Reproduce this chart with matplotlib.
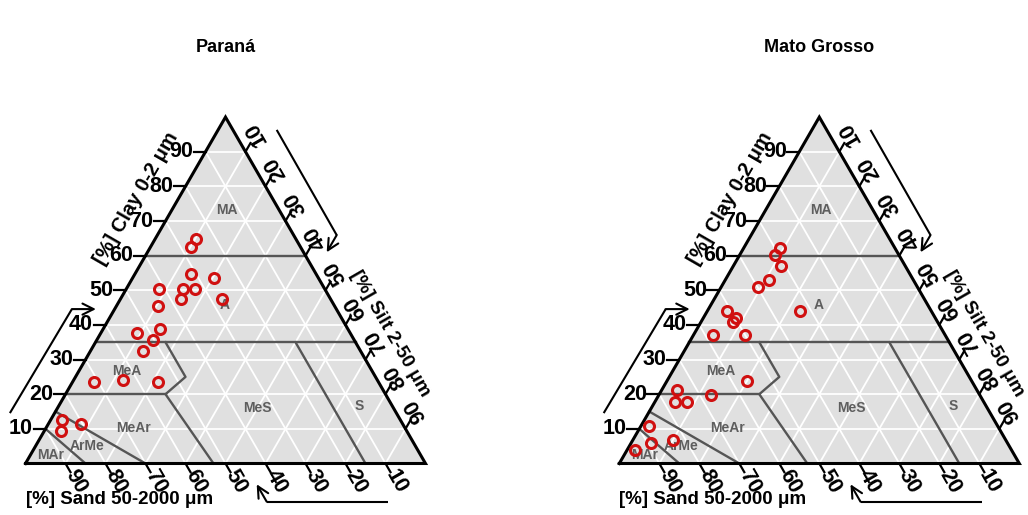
import numpy as np
import matplotlib
matplotlib.use("Agg")
import matplotlib.pyplot as plt

plt.rcParams['font.family'] = ['Liberation Sans', 'DejaVu Sans']

# soil samples, percent of clay / silt / sand
parana_clay = [64.7, 62.5, 54.8, 53.6, 50.5, 50.5, 50.5, 47.5, 47.5, 45.5,
               38.7, 37.7, 35.7, 32.5, 23.5, 24.2, 23.4, 12.6, 11.5, 9.5]
parana_silt = [10.2, 10.2, 14.0, 20.3, 8.2, 14.2, 17.2, 15.0, 25.3, 10.4,
               14.2, 9.0, 14.0, 13.2, 5.3, 12.3, 21.3, 2.9, 8.0, 4.0]
parana_sand = [25.1, 27.3, 31.2, 26.1, 41.3, 35.3, 32.3, 37.5, 27.2, 44.1,
               47.1, 53.3, 50.3, 54.3, 71.2, 63.5, 55.3, 84.5, 80.5, 86.5]

mt_clay = [62.1, 60.1, 57.0, 53.0, 51.0, 43.9, 44.0, 42.1, 40.9, 37.0,
           37.0, 23.7, 21.1, 19.9, 17.8, 17.8, 10.8, 5.8, 6.7, 3.8]
mt_silt = [9.0, 8.9, 12.0, 10.9, 9.1, 23.2, 4.9, 8.0, 7.9, 5.0,
           13.0, 20.1, 3.8, 13.0, 4.9, 8.0, 2.0, 5.0, 10.1, 2.0]
mt_sand = [28.9, 31.0, 31.0, 36.1, 39.9, 32.9, 51.1, 49.9, 51.2, 58.0,
           50.0, 56.2, 75.1, 67.1, 77.3, 74.2, 87.2, 89.2, 83.2, 94.2]

# texture class borders as (clay, silt) vertices
class_lines = [
    [(60, 0), (60, 40)],
    [(35, 0), (35, 65)],
    [(35, 17.5), (25, 27.5), (20, 25), (0, 47)],
    [(20, 0), (20, 25)],
    [(35, 50), (0, 85)],
    [(15, 0), (0, 30)],
    [(10, 0), (0, 15)],
]
class_names = ['MA', 'A', 'MeA', 'MeS', 'S', 'MeAr', 'ArMe', 'MAr']
class_clay = [73.2, 45.7, 26.6, 16.0, 16.6, 10.2, 5.1, 2.4]
class_silt = [13.8, 27.0, 12.0, 49.9, 75.1, 21.9, 12.8, 5.1]

ticks = [10, 20, 30, 40, 50, 60, 70, 80, 90]

H = np.sqrt(3) / 2


def tern(clay, silt):
    clay = np.asarray(clay, float)
    silt = np.asarray(silt, float)
    return silt + clay / 2, clay * H


def arrow(ax, pts):
    xs = [p[0] for p in pts]
    ys = [p[1] for p in pts]
    ax.plot(xs[:-1], ys[:-1], color='black', lw=1.5, solid_capstyle='butt')
    ax.annotate('', xy=pts[-1], xytext=pts[-2],
                arrowprops=dict(arrowstyle='->,head_length=0.8,head_width=0.4',
                                lw=1.5, color='black', shrinkA=0, shrinkB=0))


def texture_triangle(ax, title, clay, silt, sand):
    # background and grid
    ax.fill([0, 100, 50], [0, 0, 100 * H], color='#e0e0e0', zorder=0, lw=0)
    for v in ticks:
        x, y = tern([v, v], [0, 100 - v])
        ax.plot(x, y, color='white', lw=1.3, zorder=1)
        x, y = tern([0, 100 - v], [v, v])
        ax.plot(x, y, color='white', lw=1.3, zorder=1)
        x, y = tern([0, 100 - v], [100 - v, 0])
        ax.plot(x, y, color='white', lw=1.3, zorder=1)

    for line in class_lines:
        x, y = tern([p[0] for p in line], [p[1] for p in line])
        ax.plot(x, y, color='#555555', lw=1.7, zorder=2)

    for name, c, s in zip(class_names, class_clay, class_silt):
        x, y = tern(c, s)
        ax.text(x, y, name, ha='center', va='center', fontsize=10,
                fontweight='bold', color='#5e5e5e', zorder=3)

    ax.plot([0, 100, 50, 0], [0, 0, 100 * H, 0], color='black', lw=2.2,
            zorder=4, solid_joinstyle='miter')

    # clay axis (left)
    for v in ticks:
        x, y = tern(v, 0)
        ax.plot([x, x - 3], [y, y], color='black', lw=1.6)
        ax.text(x - 3.1, y, str(v), ha='right', va='center', fontsize=15.5,
                fontweight='bold')
    # silt axis (right)
    d = np.array([0.5, H])
    for v in ticks:
        x, y = tern(100 - v, v)
        ax.plot([x, x + 2.5 * d[0]], [y, y + 2.5 * d[1]], color='black', lw=1.6)
        ax.text(x + 5.2 * d[0], y + 5.2 * d[1], str(v), ha='center', va='center',
                rotation=120, fontsize=15.5, fontweight='bold')
    # sand axis (bottom)
    d = np.array([0.5, -H])
    for v in ticks:
        x, y = tern(0, 100 - v)
        ax.plot([x, x + 2.5 * d[0]], [y, y + 2.5 * d[1]], color='black', lw=1.6)
        ax.text(x + 5.2 * d[0], y + 5.2 * d[1], str(v), ha='center', va='center',
                rotation=-60, fontsize=15.5, fontweight='bold')

    ax.text(27.8, 66.3, '[%] Clay 0-2 \u03bcm', rotation=60, ha='center',
            va='center', fontsize=14.5, fontweight='bold')
    ax.text(91.2, 32.5, '[%] Silt 2-50 \u03bcm', rotation=-60, ha='center',
            va='center', fontsize=13.8, fontweight='bold')
    ax.text(0, -9.1, '[%] Sand 50-2000 \u03bcm', ha='left', va='center',
            fontsize=13.5, fontweight='bold')

    arrow(ax, [(-3.9, 12.6), (11.6, 38.6), (17.6, 38.6)])
    arrow(ax, [(62.8, 83.4), (77.8, 57.1), (75.3, 52.8)])
    arrow(ax, [(90.7, -9.55), (60.3, -9.55), (57.8, -5.2)])

    x, y = tern(clay, silt)
    ax.plot(x, y, 'o', ms=7.2, mfc='none', mec='#d01010', mew=2.2, zorder=5)

    ax.text(50, 103.9, title, ha='center', va='center', fontsize=13,
            fontweight='bold')


fig = plt.figure(figsize=(10.28, 5.15), dpi=100)
panels = [('Paran\u00e1', 25.5, parana_clay, parana_silt, parana_sand),
          ('Mato Grosso', 105.3, mt_clay, mt_silt, mt_sand)]
for i, (title, x0, clay, silt, sand) in enumerate(panels):
    ax = fig.add_axes([0.5 * i, 0, 0.5, 1])
    texture_triangle(ax, title, clay, silt, sand)
    ax.set_xlim(-x0 / 4, (514 - x0) / 4)
    ax.set_ylim(-(515 - 463.5) / 4, 463.5 / 4)
    ax.axis('off')

fig.savefig('out.png', dpi=100)
